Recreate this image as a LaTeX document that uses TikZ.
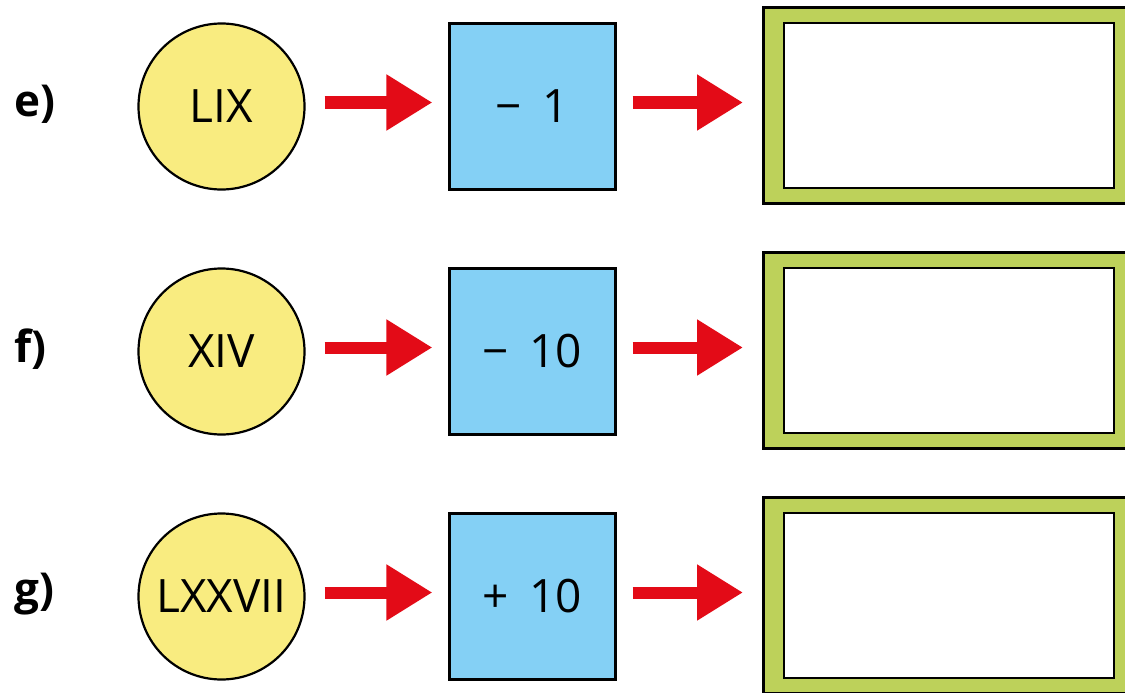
\documentclass[tikz,border=0pt]{standalone}
\usepackage{fontspec}
\setmainfont{Open Sans}
\usetikzlibrary{arrows.meta}
\definecolor{cyel}{HTML}{F9EC80}
\definecolor{cblue}{HTML}{84D0F5}
\definecolor{cgreen}{HTML}{BDD15A}
\definecolor{cred}{HTML}{E30B17}
\tikzset{
  lbl/.style={anchor=west, font=\fontsize{44}{48}\selectfont\bfseries, inner sep=0pt},
  roman/.style={circle, draw=black, line width=2.2pt, fill=cyel, minimum size=166pt, inner sep=0pt, font=\fontsize{46}{50}\selectfont},
  opbox/.style={rectangle, draw=black, line width=2.2pt, fill=cblue, minimum size=166pt, inner sep=0pt, font=\fontsize{46}{50}\selectfont},
  outframe/.style={rectangle, draw=black, line width=2.6pt, fill=cgreen, anchor=west, minimum width=372pt, minimum height=196pt, inner sep=0pt},
  inframe/.style={rectangle, draw=black, line width=2.6pt, fill=white, anchor=west, minimum width=330pt, minimum height=165pt, inner sep=0pt},
  redarrow/.style={draw=cred, line width=12pt, -{Triangle[length=46pt,width=53pt]}},
}
\newcommand{\opsp}{\hspace{0.45em}}
\begin{document}
\begin{tikzpicture}[x=1pt,y=-1pt]
\useasboundingbox (0,0) rectangle (1125,693);
\clip (0,0) rectangle (1125,693);
\foreach \r/\lab/\num/\op [count=\i] in {e/e)/LIX/{−\opsp 1}, f/f)/XIV/{−\opsp 10}, g/g)/LXXVII/{+\opsp 10}} {
  \pgfmathsetmacro{\yy}{106.5+245*(\i-1)}
  \node[lbl] (\r-lab) at (14,\yy-2) {\lab};
  \node[roman] (\r-in) at (221.5,\yy) {\num};
  \node[opbox] (\r-op) at (532.5,\yy) {\op};
  \node[outframe] (\r-out) at (762,\yy-1) {};
  \node[inframe] (\r-box) at (782.5,\yy-1) {};
  \coordinate (\r-a1s) at ([yshift=4pt]\r-in.east);
  \coordinate (\r-a1e) at ([yshift=4pt]\r-op.west);
  \coordinate (\r-a2s) at ([yshift=4pt]\r-op.east);
  \coordinate (\r-a2e) at ([yshift=3pt]\r-out.west);
  \draw[redarrow, shorten <=19pt, shorten >=16pt] (\r-a1s) -- (\r-a1e);
  \draw[redarrow, shorten <=16pt, shorten >=19pt] (\r-a2s) -- (\r-a2e);
}
\end{tikzpicture}
\end{document}
